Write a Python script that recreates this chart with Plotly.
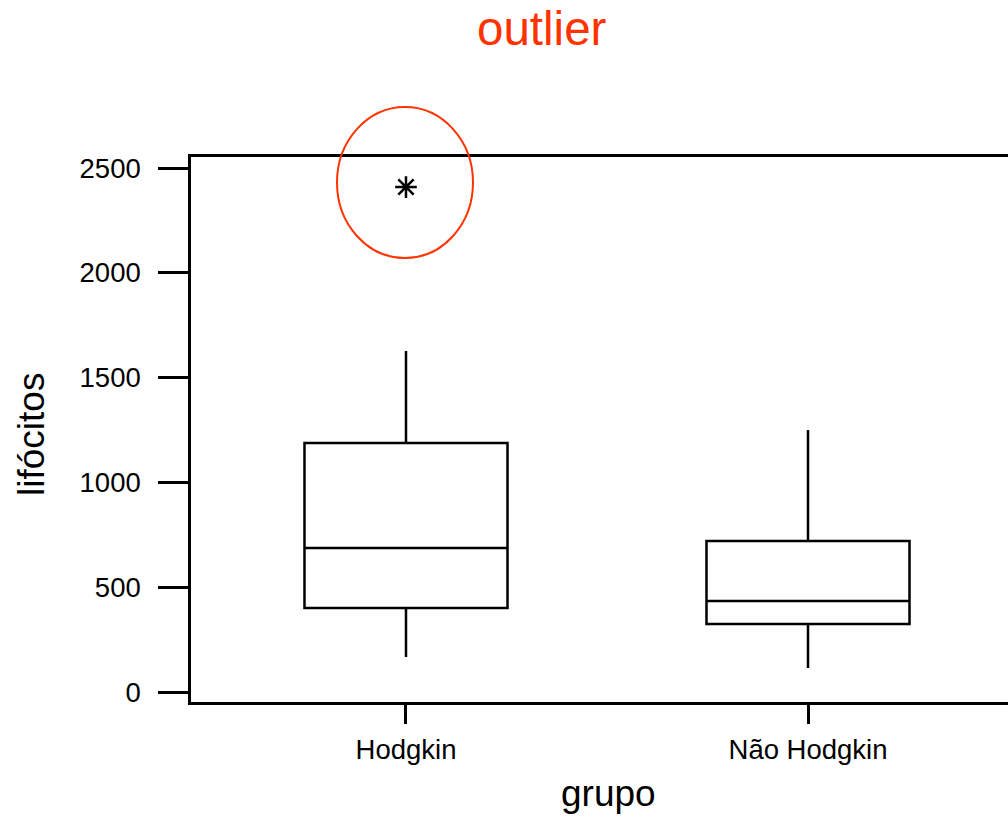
import plotly.graph_objects as go

# Summary statistics of lymphocyte counts per group
groups = ["Hodgkin", "Não Hodgkin"]
lower_whisker = [167, 115]
q1 = [401, 324]
median = [687, 434]
q3 = [1188, 720]
upper_whisker = [1627, 1250]
outlier_group = [0]
outlier_value = [2409]

y_ticks = [0, 500, 1000, 1500, 2000, 2500]

FONT = "Liberation Sans, Arial, sans-serif"
RED = "#FF3300"

W, H = 1008, 817
ML, MT, MB, MR = 191, 157, 115, 0
x_range = [-0.5348, 1.4975]
y_range = [-47.7, 2552.5]

fig = go.Figure()

for i, g in enumerate(groups):
    fig.add_trace(go.Box(
        x=[i],
        q1=[q1[i]], median=[median[i]], q3=[q3[i]],
        lowerfence=[lower_whisker[i]], upperfence=[upper_whisker[i]],
        width=0.505,
        whiskerwidth=0,
        fillcolor="rgba(255,255,255,0)",
        line=dict(color="black", width=2.5),
        boxpoints=False,
        hoverinfo="skip",
        showlegend=False,
    ))

fig.add_trace(go.Scatter(
    x=outlier_group, y=outlier_value, mode="markers",
    marker=dict(symbol="asterisk-open", size=18, color="black",
                line=dict(color="black", width=2.5)),
    showlegend=False, hoverinfo="skip",
))

# Convert data coordinates to paper fractions for decorations outside the plot area
pw = W - ML - MR
ph = H - MT - MB


def to_paper_x(v):
    return (v - x_range[0]) / (x_range[1] - x_range[0])


def to_paper_y(v):
    return (v - y_range[0]) / (y_range[1] - y_range[0])


# Red ellipse around the outlying point
cx = to_paper_x(outlier_group[0]) - 1 / pw
cy = to_paper_y(outlier_value[0]) + 4.5 / ph
rx, ry = 68 / pw, 75.5 / ph
fig.add_shape(type="circle", xref="paper", yref="paper",
              x0=cx - rx, x1=cx + rx, y0=cy - ry, y1=cy + ry,
              line=dict(color=RED, width=2))

fig.update_layout(
    width=W, height=H,
    margin=dict(l=ML, r=MR, t=MT, b=MB),
    plot_bgcolor="white", paper_bgcolor="white",
    font=dict(family=FONT, color="black"),
    showlegend=False,
    xaxis=dict(
        range=x_range, tickvals=list(range(len(groups))), ticktext=groups,
        showline=True, mirror=True, linecolor="black", linewidth=2.5,
        ticks="outside", ticklen=19, tickwidth=2.5, tickcolor="black",
        tickfont=dict(size=27.5, family=FONT), showgrid=False, zeroline=False,
        ticklabelstandoff=2,
    ),
    yaxis=dict(
        range=y_range, tickvals=y_ticks,
        showline=True, mirror=False, linecolor="black", linewidth=2.5,
        ticks="outside", ticklen=30, tickwidth=2.5, tickcolor="black",
        tickfont=dict(size=27.5, family=FONT), showgrid=False, zeroline=False,
        ticklabelstandoff=12,
    ),
    annotations=[
        dict(text="outlier", xref="paper", yref="paper",
             x=(542 - ML) / pw, y=(H - MB - 28) / ph,
             showarrow=False, xanchor="center", yanchor="middle",
             font=dict(size=47.5, color=RED, family=FONT)),
        dict(text="grupo", xref="paper", yref="paper",
             x=(608 - ML) / pw, y=(H - MB - 793) / ph,
             showarrow=False, xanchor="center", yanchor="middle",
             font=dict(size=37, family=FONT)),
        dict(text="lifócitos", xref="paper", yref="paper",
             x=(32 - ML) / pw, y=(H - MB - 435) / ph, textangle=-90,
             showarrow=False, xanchor="center", yanchor="middle",
             font=dict(size=37, family=FONT)),
    ],
)

fig.write_html("out.html")
